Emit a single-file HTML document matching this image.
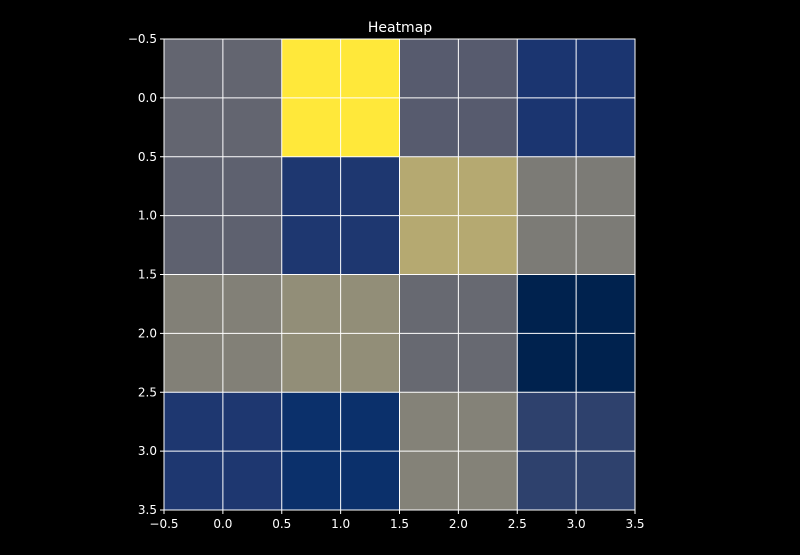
<!DOCTYPE html>
<html><head><meta charset="utf-8"><style>
body{margin:0;background:#000;width:800px;height:550px;overflow:hidden}
text{font-family:"DejaVu Sans","Liberation Sans",sans-serif;fill:#fff}
</style></head><body>
<svg id="chart" width="800" height="550" xmlns="http://www.w3.org/2000/svg">
<rect width="800" height="550" fill="#000"/>
<text x="400" y="32" text-anchor="middle" font-size="14">Heatmap</text>
<g id="cells"></g><g id="grid"></g><g id="axes"></g>
</svg>
<script>
const rowsLabels = [0,1,2,3];
const colsLabels = [0,1,2,3];
const values = [
  [0.35, 1.00, 0.30, 0.10],
  [0.33, 0.11, 0.65, 0.45],
  [0.47, 0.53, 0.37, 0.00],
  [0.11, 0.06, 0.48, 0.17]
];
const tickLabels = ["−0.5","0.0","0.5","1.0","1.5","2.0","2.5","3.0","3.5"];
const tickValues = [-0.5,0,0.5,1,1.5,2,2.5,3,3.5];

const stops=[[0,"#00224e"],[0.06,"#0b306b"],[0.1,"#1b3570"],[0.2,"#36466b"],[0.3,"#575b6e"],[0.4,"#6e6f72"],[0.5,"#8a8779"],[0.6,"#a69d75"],[0.7,"#c4b56c"],[0.85,"#e8d150"],[1,"#ffe83a"]];
function hex(h){return [1,3,5].map(i=>parseInt(h.substr(i,2),16));}
function cmap(v){for(let i=1;i<stops.length;i++){if(v<=stops[i][0]){const a=stops[i-1],b=stops[i];const t=(v-a[0])/(b[0]-a[0]);const ca=hex(a[1]),cb=hex(b[1]);return "rgb("+ca.map((c,k)=>Math.round(c+(cb[k]-c)*t)).join(",")+")";}}return stops[stops.length-1][1];}
const L=164,R=635,T=39,B=510;
const x=v=>L+(v+0.5)/4*(R-L);
const y=v=>T+(v+0.5)/4*(B-T);
const NS="http://www.w3.org/2000/svg";
function mk(tag,attrs,parent){const e=document.createElementNS(NS,tag);for(const k in attrs)e.setAttribute(k,attrs[k]);document.getElementById(parent).appendChild(e);return e;}
values.forEach((row,r)=>row.forEach((v,c)=>{
  const e=mk("rect",{x:x(colsLabels[c]-0.5),y:y(rowsLabels[r]-0.5),width:x(1)-x(0),height:y(1)-y(0),fill:cmap(v)},"cells");
  
  
}));
tickValues.forEach((t,i)=>{
  const gv=mk("line",{x1:x(t),x2:x(t),y1:T,y2:B,stroke:"#fff","stroke-width":1},"grid");
  
  
  const gh=mk("line",{x1:L,x2:R,y1:y(t),y2:y(t),stroke:"#fff","stroke-width":1},"grid");
  
  
  const tx=mk("line",{x1:x(t),x2:x(t),y1:B,y2:B+4,stroke:"#fff"},"axes");
  
  
  const lx=mk("text",{x:x(t),y:B+18,"text-anchor":"middle","font-size":"12"},"axes");
  lx.textContent=tickLabels[i];
  
  
  const ty=mk("line",{x1:L-4,x2:L,y1:y(t),y2:y(t),stroke:"#fff"},"axes");
  
  
  const ly=mk("text",{x:L-7,y:y(t)+4,"text-anchor":"end","font-size":"12"},"axes");
  ly.textContent=tickLabels[i];
  
  
});
const fr=mk("rect",{x:L,y:T,width:R-L,height:B-T,fill:"none",stroke:"#fff"},"axes");


</script>
</body></html>
